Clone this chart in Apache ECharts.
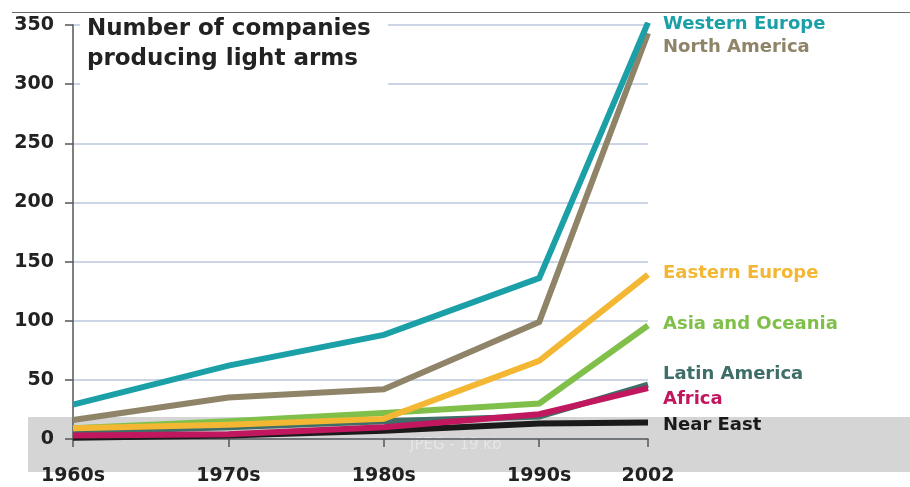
<!DOCTYPE html>
<html>
<head>
<meta charset="utf-8">
<script src="https://cdn.jsdelivr.net/npm/echarts@6/dist/echarts.min.js"></script>
<style>html,body{margin:0;padding:0;background:#fff}#c{width:910px;height:487px}</style>
</head>
<body>
<div id="c"></div>
<script>
var xLabels = ['1960s', '1970s', '1980s', '1990s', '2002'];
var xValues = [1965, 1975, 1985, 1995, 2002];
var yTicks = [0, 50, 100, 150, 200, 250, 300, 350];

var seriesNames = ['Western Europe', 'North America', 'Eastern Europe', 'Asia and Oceania', 'Latin America', 'Africa', 'Near East'];
var westernEurope = [29, 62, 88, 136, 352];
var northAmerica = [16, 35, 42, 99, 343];
var easternEurope = [9, 12, 17, 66, 139];
var asiaOceania = [9, 15, 22, 30, 96];
var latinAmerica = [6, 10, 15, 19, 46];
var africa = [3, 4, 10, 21, 43];
var nearEast = [1, 3, 7, 13, 14];

var colors = ['#1ba0a8', '#8f8468', '#f3b733', '#80c04a', '#3f6e68', '#c0175f', '#1a1a1a'];
var values = [westernEurope, northAmerica, easternEurope, asiaOceania, latinAmerica, africa, nearEast];
var labelY = [24, 47, 273, 324, 374, 399, 425];
var drawOrder = [4, 6, 5, 3, 2, 1, 0];

var FONT = '"DejaVu Sans", sans-serif';

var series = drawOrder.map(function (i, k) {
  return {
    name: seriesNames[i],
    type: 'line',
    symbol: 'none',
    z: 2 + k,
    lineStyle: { width: 6, color: colors[i], cap: 'butt', join: 'miter' },
    data: xValues.map(function (x, j) { return [x, values[i][j]]; })
  };
});

var graphics = [
  { type: 'rect', z: -10, shape: { x: 28, y: 417, width: 882, height: 55 }, style: { fill: '#d5d5d5' } },
  { type: 'rect', z: 1, shape: { x: 80, y: 14, width: 308, height: 76 }, style: { fill: '#ffffff' } },
  { type: 'line', z: 2, shape: { x1: 12, y1: 12.5, x2: 910, y2: 12.5 }, style: { stroke: '#6a6a6a', lineWidth: 1 } },
  { type: 'text', z: 2, left: 87, top: 14, style: { text: 'Number of companies\nproducing light arms', font: 'bold 23px ' + FONT, fill: '#222', lineHeight: 30 } },
  { type: 'text', z: -5, left: 410, top: 438, style: { text: 'JPEG - 19 kb', font: '15px ' + FONT, fill: '#e6e6e6' } }
];
seriesNames.forEach(function (n, i) {
  graphics.push({ type: 'text', z: 2, x: 663, y: labelY[i], style: { text: n, font: 'bold 18px ' + FONT, fill: colors[i], verticalAlign: 'middle', align: 'left' } });
});

var chart = echarts.init(document.getElementById('c'));
chart.setOption({
  animation: false,
  grid: { left: 73, right: 262, top: 25, bottom: 48, containLabel: false },
  xAxis: {
    type: 'value', min: 1965, max: 2002,
    axisLine: { show: true, lineStyle: { color: '#555', width: 1.5 } },
    axisTick: { show: true, length: 8, customValues: xValues, lineStyle: { color: '#555', width: 1.5 } },
    axisLabel: { customValues: xValues, margin: 28, color: '#222', fontFamily: FONT, fontWeight: 'bold', fontSize: 19,
      formatter: function (v) { var i = xValues.indexOf(v); return i >= 0 ? xLabels[i] : ''; } },
    splitLine: { show: false }
  },
  yAxis: {
    type: 'value', min: 0, max: 350, interval: 50,
    axisLine: { show: true, lineStyle: { color: '#555', width: 1.5 } },
    axisTick: { show: true, length: 8, lineStyle: { color: '#555', width: 1.5 } },
    axisLabel: { margin: 19, color: '#222', fontFamily: FONT, fontWeight: 'bold', fontSize: 19,
      formatter: function (v) { return yTicks.indexOf(v) >= 0 ? String(v) : ''; } },
    splitLine: { show: true, lineStyle: { color: '#cbd5e6', width: 2 } }
  },
  graphic: graphics,
  series: series
});
</script>
</body>
</html>
